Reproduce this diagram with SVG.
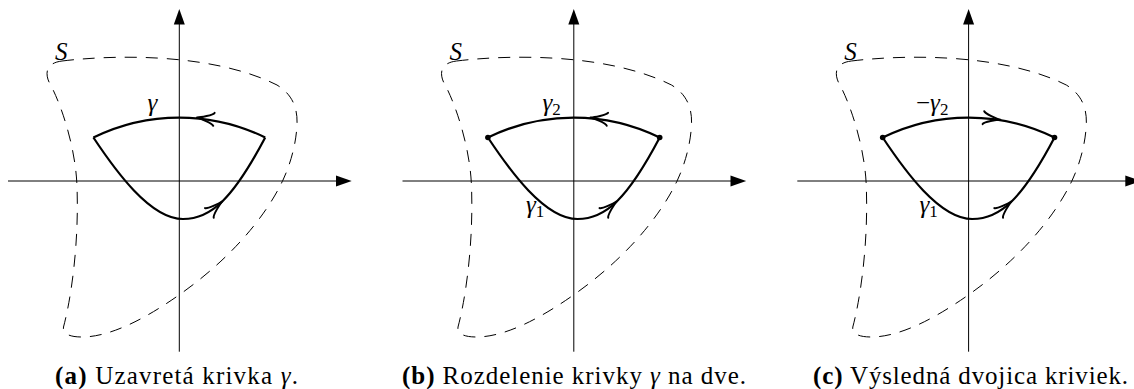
<svg xmlns="http://www.w3.org/2000/svg" xmlns:xlink="http://www.w3.org/1999/xlink" width="1134" height="389" viewBox="0 0 1134 389">
<style>
.axis{stroke:#000;stroke-width:1;fill:none}
.head{fill:#000;stroke:none}
.region{stroke:#000;stroke-width:1;fill:none;stroke-dasharray:12 9}
.curve{stroke:#000;stroke-width:2.2;fill:none;stroke-linejoin:round}
.arr{stroke:#000;stroke-width:2;fill:none;stroke-linecap:round;stroke-linejoin:round}
.m{font-size:25px;font-style:italic;fill:#000}
.sub{font-style:normal;font-size:17px}
.cap{font-size:25px;fill:#000}
.b{font-weight:bold}
</style>
<defs>
<path id="chev" class="arr" d="M -17,6.5 C -15.9,4.1 -3.4,0.4 0,0 C -3.4,-0.4 -15.9,-4.1 -17,-6.5"/>
</defs>

<g id="panel-a" font-family="Liberation Serif, DejaVu Serif, serif">
  <g id="axes-a">
    <line class="axis" x1="8" y1="181" x2="337" y2="181"/>
    <polygon class="head" points="351.7,181 336,175.5 336,186.5"/>
    <line class="axis" x1="179.3" y1="351.7" x2="179.3" y2="24"/>
    <polygon class="head" points="179.3,9 173.8,24.5 184.8,24.5"/>
  </g>
  <path id="region-a" class="region" d="M 62,61 C 120,54 215,54 277,85 C 290,93 298,105 297,125 C 296,145 290,165 283,180 C 276,195 250,245 179,295 C 130,329.5 100,337 82,337 C 68,337 62.5,333 63.5,327 C 72,295 79,240 77,187 C 76,150 62,105 49,82 C 45,73 46,63 62,61 Z"/>
  <g id="gamma-a">
    <path class="curve" d="M 93.4,137.5 A 195 195 0 0 1 265.2,137.5 M 93.4,137.5 C 115,170 150,219 183,219 C 211,219 233,198.7 265.2,137.5"/>
    <use xlink:href="#chev" transform="translate(197,117.6) rotate(186)"/>
    <use xlink:href="#chev" transform="translate(222,201.5) rotate(-42)"/>
  </g>
  <text class="m" x="55" y="59.5">S</text>
  <text class="m" x="147.5" y="110.5">γ</text>
</g>

<g id="panel-b" font-family="Liberation Serif, DejaVu Serif, serif">
  <g transform="translate(394.5,0)">
    <line class="axis" x1="8" y1="181" x2="337" y2="181"/>
    <polygon class="head" points="351.7,181 336,175.5 336,186.5"/>
    <line class="axis" x1="179.3" y1="351.7" x2="179.3" y2="24"/>
    <polygon class="head" points="179.3,9 173.8,24.5 184.8,24.5"/>
    <path class="region" d="M 62,61 C 120,54 215,54 277,85 C 290,93 298,105 297,125 C 296,145 290,165 283,180 C 276,195 250,245 179,295 C 130,329.5 100,337 82,337 C 68,337 62.5,333 63.5,327 C 72,295 79,240 77,187 C 76,150 62,105 49,82 C 45,73 46,63 62,61 Z"/>
    <path class="curve" d="M 93.4,137.5 A 195 195 0 0 1 265.2,137.5 M 93.4,137.5 C 115,170 150,219 183,219 C 211,219 233,198.7 265.2,137.5"/>
    <use xlink:href="#chev" transform="translate(196,117.5) rotate(186)"/>
    <use xlink:href="#chev" transform="translate(222,201.5) rotate(-42)"/>
    <circle cx="93.4" cy="137.5" r="2.8"/>
    <circle cx="265.2" cy="137.5" r="2.8"/>
    <text class="m" x="55" y="59.5">S</text>
  </g>
  <text class="m" x="542.5" y="110.5">γ<tspan class="sub" dy="4">2</tspan></text>
  <text class="m" x="526" y="213">γ<tspan class="sub" dy="4">1</tspan></text>
</g>

<g id="panel-c" font-family="Liberation Serif, DejaVu Serif, serif">
  <g transform="translate(789.3,0)">
    <line class="axis" x1="8" y1="181" x2="337" y2="181"/>
    <polygon class="head" points="351.7,181 336,175.5 336,186.5"/>
    <line class="axis" x1="179.3" y1="351.7" x2="179.3" y2="24"/>
    <polygon class="head" points="179.3,9 173.8,24.5 184.8,24.5"/>
    <path class="region" d="M 62,61 C 120,54 215,54 277,85 C 290,93 298,105 297,125 C 296,145 290,165 283,180 C 276,195 250,245 179,295 C 130,329.5 100,337 82,337 C 68,337 62.5,333 63.5,327 C 72,295 79,240 77,187 C 76,150 62,105 49,82 C 45,73 46,63 62,61 Z"/>
    <path class="curve" d="M 93.4,137.5 A 195 195 0 0 1 265.2,137.5 M 93.4,137.5 C 115,170 150,219 183,219 C 211,219 233,198.7 265.2,137.5"/>
    <use xlink:href="#chev" transform="translate(211,119.7) rotate(7)"/>
    <use xlink:href="#chev" transform="translate(222,201.5) rotate(-42)"/>
    <circle cx="93.4" cy="137.5" r="2.8"/>
    <circle cx="265.2" cy="137.5" r="2.8"/>
    <text class="m" x="55" y="59.5">S</text>
  </g>
  <text class="m" x="916" y="110.5"><tspan font-style="normal">−</tspan>γ<tspan class="sub" dy="4">2</tspan></text>
  <text class="m" x="919.5" y="213">γ<tspan class="sub" dy="4">1</tspan></text>
</g>

<g id="captions" font-family="Liberation Serif, DejaVu Serif, serif">
  <text class="cap" x="55" y="383.5" textLength="243" lengthAdjust="spacing"><tspan class="b">(a)</tspan> Uzavretá krivka <tspan font-style="italic">γ</tspan>.</text>
  <text class="cap" x="402" y="383.5" textLength="344" lengthAdjust="spacing"><tspan class="b">(b)</tspan> Rozdelenie krivky <tspan font-style="italic">γ</tspan> na dve.</text>
  <text class="cap" x="813" y="383.5" textLength="315" lengthAdjust="spacing"><tspan class="b">(c)</tspan> Výsledná dvojica kriviek.</text>
</g>
</svg>
